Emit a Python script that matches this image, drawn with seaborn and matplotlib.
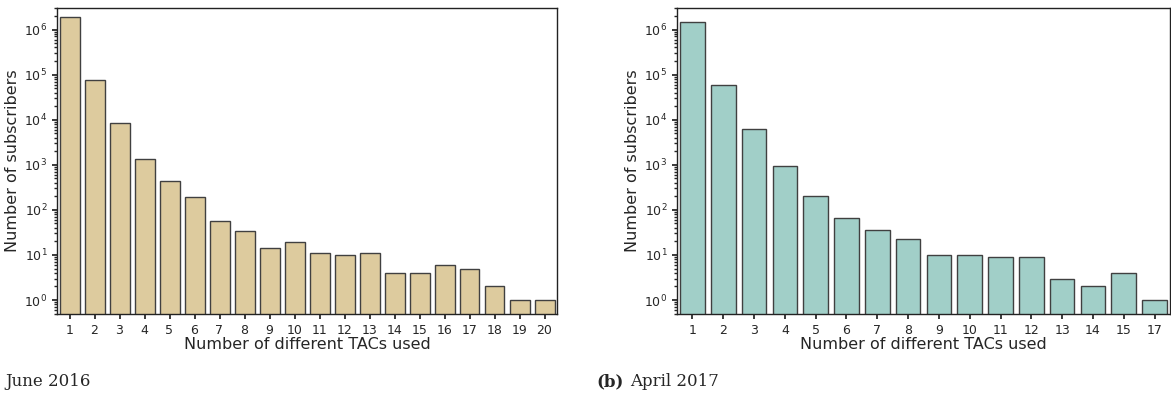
import seaborn as sns
import matplotlib.pyplot as plt
import pandas as pd

# subscribers per number of distinct TACs
tacs_2016 = [str(i) for i in range(1, 21)]
subs_2016 = [1.9e6, 7.4e4, 8300, 1370, 430, 190, 58, 34, 14, 19,
             11, 10, 11, 4, 4, 6, 5, 2, 1, 1]

tacs_2017 = ['1', '2', '3', '4', '5', '6', '7', '8', '9', '10',
             '11', '12', '13', '14', '15', '17']
subs_2017 = [1.5e6, 5.9e4, 6100, 940, 205, 65, 36, 23, 10, 10,
             9, 9, 3, 2, 4, 1]

decades = [1, 10, 100, 1e3, 1e4, 1e5, 1e6]
captions = ['June 2016', 'April 2017']

sns.set_theme(style="ticks")
plt.rcParams['font.family'] = ['DejaVu Sans']

fig = plt.figure(figsize=(11.71, 3.96), dpi=100)
ax1 = fig.add_axes([57/1171, 1 - 314/396, 500/1171, 306/396])
ax2 = fig.add_axes([677/1171, 1 - 314/396, 493/1171, 306/396])

df16 = pd.DataFrame({'tacs': tacs_2016, 'subs': subs_2016})
df17 = pd.DataFrame({'tacs': tacs_2017, 'subs': subs_2017})

for ax, df, color in [(ax1, df16, '#DDCB9E'), (ax2, df17, '#A1CFC8')]:
    sns.barplot(data=df, x='tacs', y='subs', ax=ax, color=color,
                edgecolor='#404040', linewidth=1, saturation=1, width=0.8)
    ax.set_yscale('log')
    ax.set_yticks(decades)
    ax.set_ylim(0.49, 3e6)
    ax.set_xlabel('Number of different TACs used', fontsize=11.5, labelpad=0)
    ax.set_ylabel('Number of subscribers', fontsize=11.5, labelpad=3)
    ax.tick_params(axis='both', labelsize=9, length=3.5, color='#222222')
    ax.tick_params(axis='y', which='minor', length=2)
    for s in ax.spines.values():
        s.set_visible(True)
        s.set_color('#222222')
        s.set_linewidth(1)

fig.text(5/1171, 1 - 386/396, captions[0], fontsize=12,
         family='DejaVu Serif', va='baseline', ha='left')
fig.text(596/1171, 1 - 386/396, '(b)', fontsize=12, fontweight='bold',
         family='DejaVu Serif', va='baseline', ha='left')
fig.text(630/1171, 1 - 386/396, captions[1], fontsize=12,
         family='DejaVu Serif', va='baseline', ha='left')

plt.savefig('out.png', dpi=100)
